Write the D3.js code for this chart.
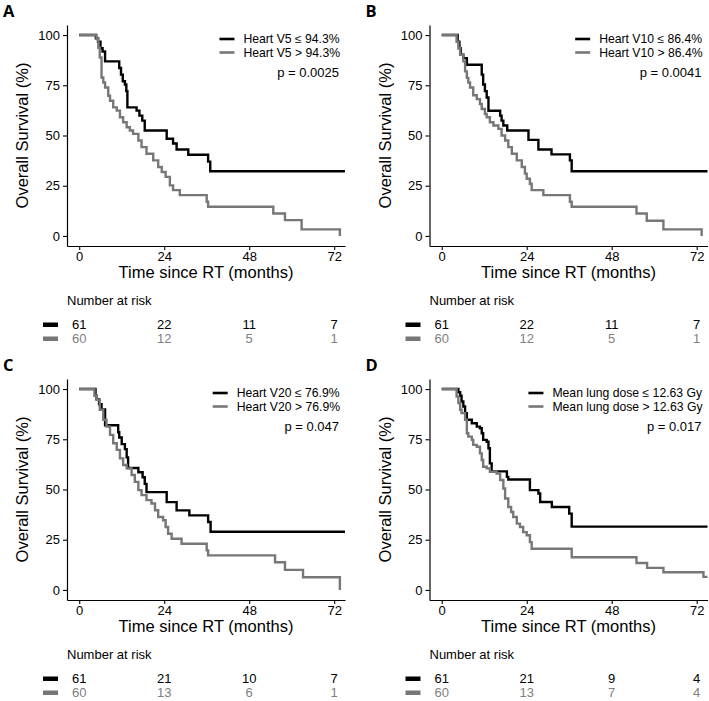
<!DOCTYPE html>
<html><head><meta charset="utf-8">
<script src="https://cdn.jsdelivr.net/npm/d3@7"></script>
<style>body{margin:0;background:#fff}svg{display:block}</style>
</head><body>
<svg id="c" width="709" height="701"></svg>
<script>
// ---- data ----
const xTicks = [0, 24, 48, 72];
const yTicks = [0, 25, 50, 75, 100];
const riskTimes = [0, 24, 48, 72];
const panelLabels = ["A", "B", "C", "D"];
const legendLow = ["Heart V5 \u2264 94.3%", "Heart V10 \u2264 86.4%", "Heart V20 \u2264 76.9%", "Mean lung dose \u2264 12.63 Gy"];
const legendHigh = ["Heart V5 > 94.3%", "Heart V10 > 86.4%", "Heart V20 > 76.9%", "Mean lung dose > 12.63 Gy"];
const pValues = ["p = 0.0025", "p = 0.0041", "p = 0.047", "p = 0.017"];

const aLowT  = [0,4.7,5.3,6.0,6.6,7.3,11.3,11.8,12.3,12.9,13.3,13.6,16.2,17.0,17.8,18.5,24.7,26.5,27.5,30.8,36.4,37.0,75.05];
const aLowS  = [100,98.4,96.7,93.4,91.8,86.9,83.6,80.3,77.0,75.4,72.1,64.0,62.4,59.9,57.4,52.5,48.4,46.0,43.0,40.4,37.0,32.2,32.2];
const aHighT = [0,4.9,5.4,5.8,6.3,6.8,7.3,8.2,8.7,9.6,10.6,11.5,12.4,13.4,14.3,15.2,16.7,17.6,19.0,20.9,22.3,23.3,24.4,25.6,26.5,28.4,36.0,36.4,54.8,58.1,62.8,73.6];
const aHighS = [100,98.3,93.7,88.8,78.9,76.4,73.9,69.8,67.3,64.0,62.4,59.1,56.6,54.1,52.5,50.8,47.5,44.2,40.9,37.6,34.3,31.8,29.4,25.2,22.8,20.3,17.0,14.5,11.2,7.9,3.3,0];

const bLowT  = [0,4.5,5.0,5.4,6.1,7.1,11.3,11.7,12.2,12.7,13.2,16.5,16.9,17.4,18.5,24.5,27.3,31.0,36.2,36.7,75.05];
const bLowS  = [100,96.7,93.4,90.2,88.5,85.2,80.3,75.4,72.1,68.9,62.3,59.9,57.4,55.0,52.5,47.8,43.0,40.6,37.6,32.2,32.2];
const bHighT = [0,4.2,4.7,5.2,6.1,6.6,7.1,7.5,8.0,8.9,9.9,10.8,11.3,12.2,12.7,13.6,14.6,16.0,16.9,17.9,18.8,19.8,21.2,22.6,23.5,24.0,24.9,25.4,28.7,36.2,36.7,55.0,57.9,62.6,73.4];
const bHighS = [100,96.7,93.4,90.2,86.9,81.9,78.7,76.4,73.9,70.0,68.1,65.7,63.2,60.7,59.1,56.6,55.0,53.3,50.0,47.5,44.2,40.9,37.6,34.3,31.0,28.5,26.0,22.8,20.3,17.0,14.5,11.2,7.6,3.3,0];

const cLowT  = [0,4.6,4.9,5.6,6.3,7.3,11.0,11.3,12.0,12.9,13.4,13.8,16.7,17.9,18.5,19.0,24.7,27.5,31.1,36.4,37.1,75.05];
const cLowS  = [100,96.7,95.0,92.4,89.9,82.0,78.5,75.9,72.6,70.1,66.0,60.7,58.6,56.1,52.8,48.7,43.7,39.6,37.1,33.8,29.0,29.0];
const cHighT = [0,4.3,4.9,5.8,6.8,7.7,8.7,9.6,10.6,11.5,12.4,13.4,14.8,15.7,16.7,17.6,19.0,20.4,21.4,22.3,23.7,24.4,25.1,26.1,28.9,36.0,36.4,55.3,58.1,63.2,73.6];
const cHighS = [100,96.7,94.7,89.7,84.7,81.3,77.2,73.0,69.7,65.5,62.2,60.5,57.2,53.8,49.7,47.2,44.7,43.0,39.7,36.3,34.7,31.3,28.0,25.5,23.0,19.7,17.2,13.8,10.0,6.3,0];

const dLowT  = [0,4.7,5.2,5.6,6.1,6.6,7.1,8.5,9.9,10.8,11.3,11.7,12.7,13.2,13.6,14.1,18.4,18.8,24.9,27.3,27.8,31.1,36.0,36.7,75.05];
const dLowS  = [100,98.4,96.7,93.8,91.3,88.0,84.7,83.0,81.3,80.5,78.0,74.7,73.8,70.5,63.0,59.0,56.3,55.0,49.7,48.0,43.8,41.3,38.0,31.5,31.5];
const dHighT = [0,4.2,4.7,5.2,5.6,6.6,7.1,7.5,8.5,8.9,9.9,10.8,11.3,11.7,12.7,13.6,15.5,16.5,17.4,17.9,18.8,19.6,20.2,21.2,22.1,23.0,24.0,24.9,25.4,36.7,55.0,58.0,62.6,73.9,75.05];
const dHighS = [100,96.3,93.0,89.7,88.0,84.7,78.0,76.3,74.7,72.2,71.3,68.0,64.7,61.3,60.5,58.8,58.0,54.7,50.5,45.5,41.3,38.8,36.3,33.0,31.3,28.8,27.2,23.8,20.5,16.3,13.4,11.0,8.8,6.5,6.5];

const riskLowA = [61,22,11,7],  riskHighA = [60,12,5,1];
const riskLowB = [61,22,11,7],  riskHighB = [60,12,5,1];
const riskLowC = [61,21,10,7],  riskHighC = [60,13,6,1];
const riskLowD = [61,21,9,4],   riskHighD = [60,13,7,4];

// ---- layout ----
const panels = [
  {ox:0,     oy:0,   low:[aLowT,aLowS], high:[aHighT,aHighS], rl:riskLowA, rh:riskHighA},
  {ox:362.5, oy:0,   low:[bLowT,bLowS], high:[bHighT,bHighS], rl:riskLowB, rh:riskHighB},
  {ox:0,     oy:354, low:[cLowT,cLowS], high:[cHighT,cHighS], rl:riskLowC, rh:riskHighC},
  {ox:362.5, oy:354, low:[dLowT,dLowS], high:[dHighT,dHighS], rl:riskLowD, rh:riskHighD}
];
const FONT = "'Liberation Sans', Arial, sans-serif";
const BLACK = "#000000", GREY = "#777777", GREYTXT = "#808080";

const svg = d3.select("#c");
const x = d3.scaleLinear().domain([-3.45, 75.05]).range([67, 345]);
const y = d3.scaleLinear().domain([-5, 105]).range([246, 25]);

panels.forEach((p, i) => {
  const g = svg.append("g").attr("transform", `translate(${p.ox},${p.oy})`);

  // panel letter
  g.append("text").attr("x", 3).attr("y", 17)
    .attr("font-family", "'Open Sans', 'DejaVu Sans', sans-serif").attr("font-weight", 700)
    .attr("font-size", 16.5).text(panelLabels[i]);

  // axes
  const xa = g.append("g").attr("transform", "translate(0,246)")
    .call(d3.axisBottom(x).tickValues(xTicks).tickSize(4).tickPadding(2).tickSizeOuter(0));
  const ya = g.append("g").attr("transform", "translate(67,0)")
    .call(d3.axisLeft(y).tickValues(yTicks).tickSize(4).tickPadding(3).tickSizeOuter(0));
  [xa, ya].forEach(a => {
    a.select(".domain").attr("stroke", "#000").attr("stroke-width", 1.2);
    a.selectAll(".tick line").attr("stroke", "#000").attr("stroke-width", 1.1);
    a.selectAll(".tick text").attr("font-family", FONT).attr("font-size", 13).attr("fill", "#000");
  });

  // axis titles
  g.append("text").attr("x", (67 + 345) / 2).attr("y", 278).attr("text-anchor", "middle")
    .attr("font-family", FONT).attr("font-size", 16.5).text("Time since RT (months)");
  g.append("text").attr("transform", `translate(28,135.5) rotate(-90)`).attr("text-anchor", "middle")
    .attr("font-family", FONT).attr("font-size", 16.5).text("Overall Survival (%)");

  // curves
  const line = d3.line().x(d => x(d[0])).y(d => y(d[1])).curve(d3.curveStepAfter);
  const toPts = arr => arr[0].map((t, k) => [t, arr[1][k]]);
  g.append("path").datum(toPts(p.low)).attr("d", line).attr("fill", "none")
    .attr("stroke", BLACK).attr("stroke-width", 2.4);
  g.append("path").datum(toPts(p.high)).attr("d", line).attr("fill", "none")
    .attr("stroke", GREY).attr("stroke-width", 2.4);

  // legend
  const lg = g.append("g");
  const t1 = lg.append("text").attr("y", 43.3).attr("font-family", FONT).attr("font-size", 12.2).text(legendLow[i]);
  const t2 = lg.append("text").attr("y", 56.8).attr("font-family", FONT).attr("font-size", 12.2).text(legendHigh[i]);
  const w = Math.max(t1.node().getComputedTextLength(), t2.node().getComputedTextLength());
  const tx = 340 - w;
  t1.attr("x", tx); t2.attr("x", tx);
  lg.append("line").attr("x1", tx - 24).attr("x2", tx - 9).attr("y1", 39).attr("y2", 39)
    .attr("stroke", BLACK).attr("stroke-width", 2.6);
  lg.append("line").attr("x1", tx - 24).attr("x2", tx - 9).attr("y1", 52.5).attr("y2", 52.5)
    .attr("stroke", GREY).attr("stroke-width", 2.6);
  g.append("text").attr("x", 339).attr("y", 76.5).attr("text-anchor", "end")
    .attr("font-family", FONT).attr("font-size", 13).text(pValues[i]);

  // risk table
  g.append("text").attr("x", 67).attr("y", 304.5).attr("font-family", FONT).attr("font-size", 13)
    .text("Number at risk");
  g.append("rect").attr("x", 43).attr("y", 322.5).attr("width", 15).attr("height", 4.5).attr("fill", BLACK);
  g.append("rect").attr("x", 43).attr("y", 336.5).attr("width", 15).attr("height", 4.5).attr("fill", GREY);
  g.selectAll(".r1").data(riskTimes).enter().append("text")
    .attr("x", d => x(d)).attr("y", 329).attr("text-anchor", "middle")
    .attr("font-family", FONT).attr("font-size", 13).attr("fill", BLACK)
    .text((d, k) => p.rl[k]);
  g.selectAll(".r2").data(riskTimes).enter().append("text")
    .attr("x", d => x(d)).attr("y", 343).attr("text-anchor", "middle")
    .attr("font-family", FONT).attr("font-size", 13).attr("fill", GREYTXT)
    .text((d, k) => p.rh[k]);
});
</script>
</body></html>
